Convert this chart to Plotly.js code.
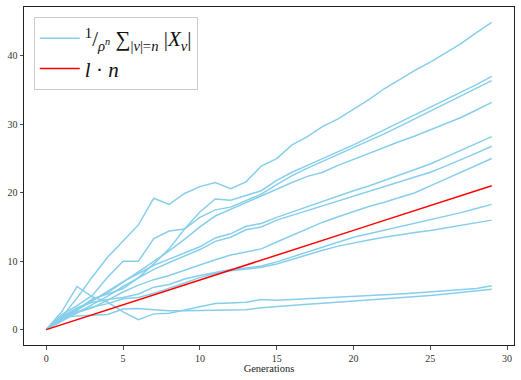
<!DOCTYPE html>
<html>
<head>
<meta charset="utf-8">
<script src="https://cdn.plot.ly/plotly-3.0.1.min.js"></script>
<style>
  html, body { margin: 0; padding: 0; background: #fff; }
  #chart { width: 521px; height: 380px; }
</style>
</head>
<body>
<div id="chart"></div>
<script>
// generations 0..29
const generations = [0,1,2,3,4,5,6,7,8,9,10,11,12,13,14,15,16,17,18,19,20,21,22,23,24,25,26,27,28,29];

// normalised population runs
const runA = [0, 1.8, 4.6, 7.7, 10.6, 13.0, 15.3, 19.2, 18.3, 19.9, 20.9, 21.5, 20.6, 21.6, 23.9, 25.0, 27.0, 28.2, 29.7, 30.8, 32.2, 33.6, 35.2, 36.6, 37.9, 39.1, 40.4, 41.8, 43.4, 44.9];
const runB = [0, 1.6, 2.9, 4.5, 5.2, 6.0, 7.6, 9.6, 11.8, 14.7, 17.2, 19.1, 18.9, 19.6, 20.3, 21.8, 23.0, 24.0, 25.0, 25.9, 27.0, 28.1, 29.2, 30.3, 31.4, 32.5, 33.5, 34.6, 35.8, 37.0];
const runC = [0, 2.2, 3.5, 5.0, 7.7, 10.0, 10.0, 13.3, 14.4, 14.7, 16.4, 17.5, 17.9, 18.9, 19.8, 21.2, 22.5, 23.6, 24.6, 25.5, 26.6, 27.6, 28.6, 29.7, 30.8, 31.9, 33.0, 34.1, 35.3, 36.4];
const runD = [0, 1.7, 3.0, 4.3, 5.4, 6.9, 8.4, 10.0, 11.5, 13.2, 15.0, 16.6, 17.6, 18.6, 19.6, 20.6, 21.5, 22.4, 23.0, 24.0, 24.9, 25.8, 26.7, 27.5, 28.3, 29.2, 30.1, 31.0, 32.1, 33.2];
const runE = [0, 1.5, 2.8, 4.2, 5.5, 7.0, 8.2, 9.4, 10.3, 11.2, 12.1, 13.4, 14.0, 15.1, 15.5, 16.4, 17.2, 18.0, 18.8, 19.5, 20.3, 21.0, 21.8, 22.6, 23.4, 24.2, 25.2, 26.2, 27.2, 28.2];
const runF = [0, 1.2, 2.4, 3.6, 4.9, 6.3, 7.6, 8.8, 9.8, 10.7, 11.7, 12.9, 13.5, 14.6, 15.0, 16.0, 16.7, 17.4, 18.2, 18.9, 19.6, 20.2, 21.0, 21.7, 22.3, 23.0, 23.9, 24.8, 25.8, 26.8];
const runG = [0, 1.4, 2.5, 3.2, 4.3, 5.5, 6.5, 7.3, 7.9, 8.7, 9.5, 10.2, 10.9, 11.3, 11.8, 12.8, 13.8, 14.8, 15.7, 16.5, 17.3, 18.0, 18.6, 19.3, 20.0, 21.0, 22.0, 23.0, 24.0, 25.0];
const runH = [0, 1.9, 3.2, 4.0, 4.4, 4.7, 5.2, 6.2, 6.6, 7.4, 7.9, 8.3, 8.8, 9.0, 9.3, 9.9, 10.6, 11.3, 12.0, 12.7, 13.5, 14.0, 14.5, 15.0, 15.5, 16.0, 16.5, 17.1, 17.7, 18.3];
const runI = [0, 1.3, 2.6, 3.3, 3.8, 4.5, 4.7, 5.3, 6.0, 6.8, 7.6, 8.2, 8.6, 8.9, 9.1, 9.6, 10.3, 11.0, 11.6, 12.2, 12.7, 13.1, 13.5, 13.9, 14.2, 14.5, 14.9, 15.3, 15.7, 16.0];
const runJ = [0, 2.6, 6.3, 4.8, 4.0, 2.6, 1.45, 2.3, 2.4, 2.9, 3.3, 3.8, 3.9, 4.0, 4.4, 4.3, 4.4, 4.5, 4.7, 4.8, 4.9, 5.0, 5.1, 5.2, 5.35, 5.5, 5.65, 5.85, 6.0, 6.4];
const runK = [0, 1.8, 2.0, 2.1, 2.2, 3.0, 3.1, 2.9, 2.75, 2.75, 2.8, 2.85, 2.9, 2.9, 3.2, 3.4, 3.55, 3.7, 3.85, 4.0, 4.2, 4.4, 4.5, 4.7, 4.85, 5.0, 5.2, 5.4, 5.6, 5.9];

// l * n reference line
const lineLN = [0, 0.73, 1.45, 2.18, 2.9, 3.63, 4.35, 5.08, 5.8, 6.53, 7.25, 7.98, 8.7, 9.43, 10.15, 10.88, 11.6, 12.33, 13.05, 13.78, 14.5, 15.23, 15.95, 16.68, 17.4, 18.13, 18.85, 19.58, 20.3, 21.03];

const runs = [runA, runB, runC, runD, runE, runF, runG, runH, runI, runJ, runK];

const blueName = '<sup>1</sup>/<sub><i>ρ</i><sup><i>n</i></sup></sub> ∑<sub>|<i>v</i>|=<i>n</i></sub> |<i>X<sub>v</sub></i>|';
const redName = '<i>l</i> · <i>n</i>';

var chartData = runs.map(function(run, i){
    return {
        x: generations,
        y: run,
        type: 'scatter',
        mode: 'lines',
        name: blueName,
        legendgroup: 'runs',
        showlegend: i === 0,
        line: { color: '#87CEEB', width: 1.5 },
        hoverinfo: 'skip'
    };
});

chartData.push({
    x: generations,
    y: lineLN,
    type: 'scatter',
    mode: 'lines',
    name: redName,
    line: { color: '#ff0000', width: 1.5 },
    hoverinfo: 'skip'
});

var layout = {
    width: 521,
    height: 380,
    paper_bgcolor: '#fff',
    plot_bgcolor: '#fff',
    margin: { l: 24, r: 7, t: 7, b: 35 },
    font: { family: 'Liberation Serif, DejaVu Serif, serif', color: '#222', size: 10 },
    showlegend: true,
    legend: {
        x: 0.02, y: 0.97,
        xanchor: 'left', yanchor: 'top',
        bgcolor: 'rgba(255,255,255,0.8)',
        bordercolor: '#cccccc',
        borderwidth: 1,
        font: { size: 21, color: '#111' },
        tracegroupgap: 0,
        itemwidth: 40
    },
    xaxis: {
        range: [-1.45, 30.45],
        tickvals: [0, 5, 10, 15, 20, 25, 30],
        ticks: 'outside', ticklen: 3.5, tickwidth: 0.8, tickcolor: '#222',
        showline: true, mirror: true, linecolor: '#222', linewidth: 1,
        showgrid: false, zeroline: false,
        tickfont: { size: 10, color: '#333' },
        title: { text: 'Generations', font: { size: 10.5, color: '#222' }, standoff: 2 }
    },
    yaxis: {
        range: [-2.25, 47.15],
        tickvals: [0, 10, 20, 30, 40],
        ticks: 'outside', ticklen: 3.5, tickwidth: 0.8, tickcolor: '#222',
        showline: true, mirror: true, linecolor: '#222', linewidth: 1,
        showgrid: false, zeroline: false,
        tickfont: { size: 10, color: '#333' }
    }
};

var config = { displayModeBar: false, staticPlot: true };

Plotly.newPlot(document.getElementById('chart'), chartData, layout, config);
</script>
</body>
</html>
